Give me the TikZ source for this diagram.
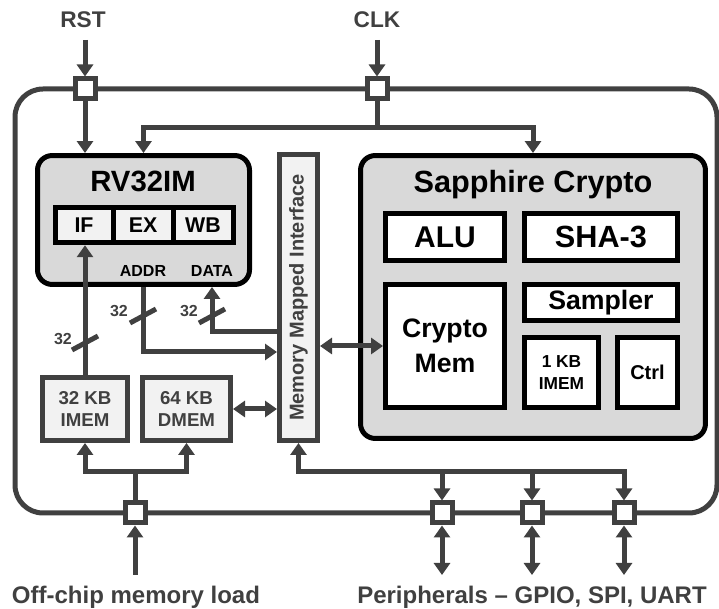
\documentclass[tikz,border=0pt]{standalone}
\usepackage{fontspec}
\setmainfont{Liberation Sans}
\usetikzlibrary{arrows.meta}

\definecolor{dgray}{RGB}{64,64,64}
\definecolor{mgray}{RGB}{217,217,217}
\definecolor{lgray}{RGB}{242,242,242}

\tikzset{every picture/.style={line width=0.75pt}}
\tikzset{
  wire/.style={draw=dgray, line width=3.75pt},
  sig/.style={wire, -{Triangle[length=9pt,width=12pt]}},
  sigboth/.style={wire, {Triangle[length=9pt,width=12pt]}-{Triangle[length=9pt,width=12pt]}},
  pad/.style={draw=dgray, fill=white, line width=3.75pt, minimum size=15pt, inner sep=0pt},
  core/.style={draw=black, fill=mgray, line width=3.75pt, rounded corners=11pt, inner sep=0pt},
  unit/.style={draw=black, fill=white, line width=3.75pt, inner sep=0pt, align=center},
  stage/.style={draw=black, fill=lgray, line width=3.75pt, inner sep=0pt, minimum height=26.6pt,
    font=\bfseries\fontsize{16}{18}\selectfont},
  mem/.style={draw=dgray, fill=lgray, line width=3.75pt, inner sep=0pt, align=center, text=dgray},
  lbl/.style={inner sep=0pt, anchor=base},
}

\begin{document}
\begin{tikzpicture}[x=0.75pt,y=0.75pt,yscale=-1,xscale=1]
\useasboundingbox (0,0) rectangle (719,609);

%Shape: Rounded Rect (chip)
\draw [wire, rounded corners=21pt] (15,89) rectangle (717,513);

%Shape: Square (pads)
\node [pad] (rstpad) at (85,89) {};
\node [pad] (clkpad) at (377,89) {};
\node [pad] (offpad) at (135,513) {};
\node [pad] (p1) at (442,513) {};
\node [pad] (p2) at (532,513) {};
\node [pad] (p3) at (624,513) {};

% Text Node
\node [lbl, text=dgray, font=\bfseries\fontsize{17}{20}\selectfont] (rst) at (83,28) {RST};
% Text Node
\node [lbl, text=dgray, font=\bfseries\fontsize{17}{20}\selectfont] (clk) at (377,28) {CLK};
% Text Node
\node [lbl, text=dgray, font=\bfseries\fontsize{18}{21}\selectfont] (offtxt) at (136,604) {Off-chip memory load};
% Text Node
\node [lbl, text=dgray, font=\bfseries\fontsize{18}{21}\selectfont] (periph) at (532,604) {Peripherals -- GPIO, SPI, UART};

%Shape: Rounded Rect (core)
\node [core, minimum width=159pt, minimum height=96.7pt] (rv) at (143.5,220) {};
% Text Node
\node [lbl, font=\bfseries\fontsize{22}{26}\selectfont] (rvtitle) at (143,192) {RV32IM};
\node [stage, minimum width=43.5pt] (if) at (84,225) {IF};
\node [stage, minimum width=45pt] (ex) at (143,225) {EX};
\node [stage, minimum width=45pt] (wb) at (203,225) {WB};
% Text Node
\node [lbl, font=\bfseries\fontsize{12}{14}\selectfont] (addr) at (143,277) {ADDR};
% Text Node
\node [lbl, font=\bfseries\fontsize{12}{14}\selectfont] (data) at (212,277) {DATA};

%Shape: Rounded Rect (accelerator)
\node [core, minimum width=258.7pt, minimum height=212.2pt] (sc) at (533,297) {};
% Text Node
\node [lbl, font=\bfseries\fontsize{23}{27}\selectfont] (sctitle) at (533,193) {Sapphire Crypto};
\node [unit, minimum width=89.2pt, minimum height=35.2pt, font=\bfseries\fontsize{22.5}{26}\selectfont] (alu) at (445,237) {ALU};
\node [unit, minimum width=114.7pt, minimum height=35.2pt, font=\bfseries\fontsize{23}{26}\selectfont] (sha) at (601,237) {SHA-3};
\node [unit, minimum width=114.7pt, minimum height=27pt, font=\bfseries\fontsize{20}{24}\selectfont] (sampler) at (601,302.5) {Sampler};
\node [unit, minimum width=89.2pt, minimum height=92.2pt, font=\bfseries\fontsize{20}{26}\selectfont] (cmem) at (445,346) {Crypto\\Mem};
\node [unit, minimum width=55.5pt, minimum height=52.5pt, font=\bfseries\fontsize{13}{16}\selectfont] (kimem) at (561.5,372.5) {1 KB\\IMEM};
\node [unit, minimum width=45pt, minimum height=52.5pt, font=\bfseries\fontsize{15}{18}\selectfont] (ctrl) at (647.5,372.5) {Ctrl};

%Shape: Rectangle (bus interface)
\node [mem, minimum width=28.5pt, minimum height=214.5pt] (mmi) at (298.5,297.5) {};
% Text Node
\node [inner sep=0pt, rotate=90, text=dgray, font=\bfseries\fontsize{15}{18}\selectfont] (mmitext) at (mmi.center) {Memory Mapped Interface};

%Shape: Rectangle (memories)
\node [mem, minimum width=63.7pt, minimum height=47.2pt, font=\bfseries\fontsize{14}{17}\selectfont] (imem) at (85,409) {32 KB\\IMEM};
\node [mem, minimum width=66pt, minimum height=47.2pt, font=\bfseries\fontsize{14}{17}\selectfont] (dmem) at (186.5,409) {64 KB\\DMEM};

% free ends
\coordinate (rstin) at (85,40);
\coordinate (clkin) at (377,40);
\coordinate (offin) at (135,575);
\coordinate (clkbus) at (377,128);
\coordinate (offbus) at (135,472);
\coordinate (pbus) at (mmi.south |- 0,472);

% reset and clock
\draw [sig] (rstin) -- (rstpad);
\draw [sig] (clkin) -- (clkpad);
\draw [sig] (rstpad) -- (rstpad |- rv.north);
\draw [wire] (clkpad) -- (clkbus);
\draw [sigboth] (rv.north) |- (clkbus) -| (sc.north);

% core buses
\draw [sig] (imem.north) -- (imem.north |- if.south);
\draw [sig] (rv.south -| addr) |- (mmi.west |- 0,352);
\draw [sig] (mmi.west |- 0,332) -| (rv.south -| data);
\draw [wire] (85,343) ++(-13,7) -- ++(26,-14);
\draw [wire] (143,316) ++(-13,7) -- ++(26,-14);
\draw [wire] (212,316) ++(-13,7) -- ++(26,-14);
% Text Node
\node [lbl, text=dgray, font=\bfseries\fontsize{12}{14}\selectfont] (w1) at (63,345) {32};
\node [lbl, text=dgray, font=\bfseries\fontsize{12}{14}\selectfont] (w2) at (119,317) {32};
\node [lbl, text=dgray, font=\bfseries\fontsize{12}{14}\selectfont] (w3) at (189,317) {32};

\draw [sigboth] (dmem.east) -- (dmem.east -| mmi.west);
\draw [sigboth] (mmi.east |- cmem.west) -- (cmem.west);

% off-chip load
\draw [sig] (offin) -- (offpad);
\draw [wire] (offpad) -- (offbus);
\draw [sigboth] (imem.south) |- (offbus) -| (dmem.south);

% peripherals
\draw [sigboth] (p3.north) |- (pbus) -- (mmi.south);
\foreach \p in {p1,p2} {
  \draw [sig] (\p.north |- pbus) -- (\p.north);
}
\foreach \p in {p1,p2,p3} {
  \draw [sigboth] (\p.south) -- (\p.south |- offin);
}

\end{tikzpicture}
\end{document}
